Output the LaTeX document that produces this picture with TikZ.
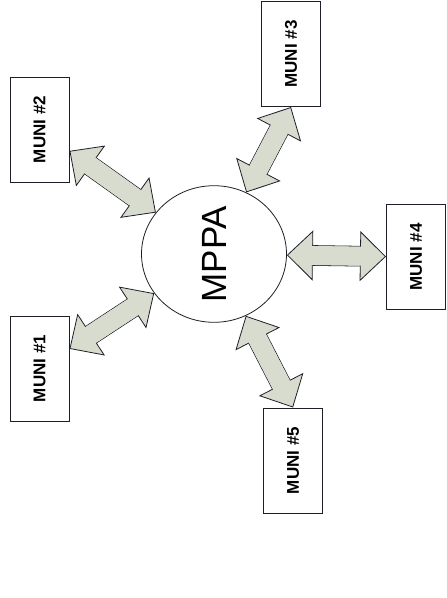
\documentclass[tikz,border=0pt]{standalone}
\usepackage{fontspec}
\setmainfont{Liberation Sans}
\usetikzlibrary{shapes.geometric, arrows.meta, backgrounds}
\definecolor{linkfill}{RGB}{216,220,206}
\definecolor{inkline}{RGB}{30,30,40}

\begin{document}
\begin{tikzpicture}[x=1pt, y=-1pt,
    muni/.style={draw=inkline, line width=1pt, fill=white, rectangle, minimum width=59pt, minimum height=105pt, inner sep=0pt, font=\bfseries\fontsize{17}{20}\selectfont},
    hub/.style={draw=inkline, line width=0.8pt, fill=white, ellipse, minimum width=145pt, minimum height=117pt, inner sep=0pt, font=\fontsize{35}{40}\selectfont},
    fat/.tip={Triangle[length=26pt, width=50pt, fill=linkfill, line width=0.8pt]},
    link/.style={draw=inkline, line width=0.8pt, double=linkfill, double distance=19pt, {fat}-{fat},
        postaction={draw=linkfill, line width=19pt, shorten <=18pt, shorten >=18pt, -}}]
    \useasboundingbox (0,0) rectangle (447,598);

    % Nodes
    \node [hub] (mppa) at (214,254) {\rotatebox{90}{MPPA}};
    \node [muni] (m1) at (39.5,368.5) {\rotatebox{90}{MUNI \#1}};
    \node [muni] (m2) at (39.5,129.5) {\rotatebox{90}{MUNI \#2}};
    \node [muni] (m3) at (291,54) {\rotatebox{90}{MUNI \#3}};
    \node [muni] (m4) at (416,257) {\rotatebox{90}{MUNI \#4}};
    \node [muni] (m5) at (293,460.5) {\rotatebox{90}{MUNI \#5}};

    % Arrows
    \begin{pgfonlayer}{background}
        \draw [link] (m1) -- (mppa);
        \draw [link] (m2) -- (mppa);
        \draw [link] (m3.south) -- (mppa);
        \draw [link] (m4) -- (mppa);
        \draw [link] (m5.north) -- (mppa);
    \end{pgfonlayer}

\end{tikzpicture}
\end{document}
